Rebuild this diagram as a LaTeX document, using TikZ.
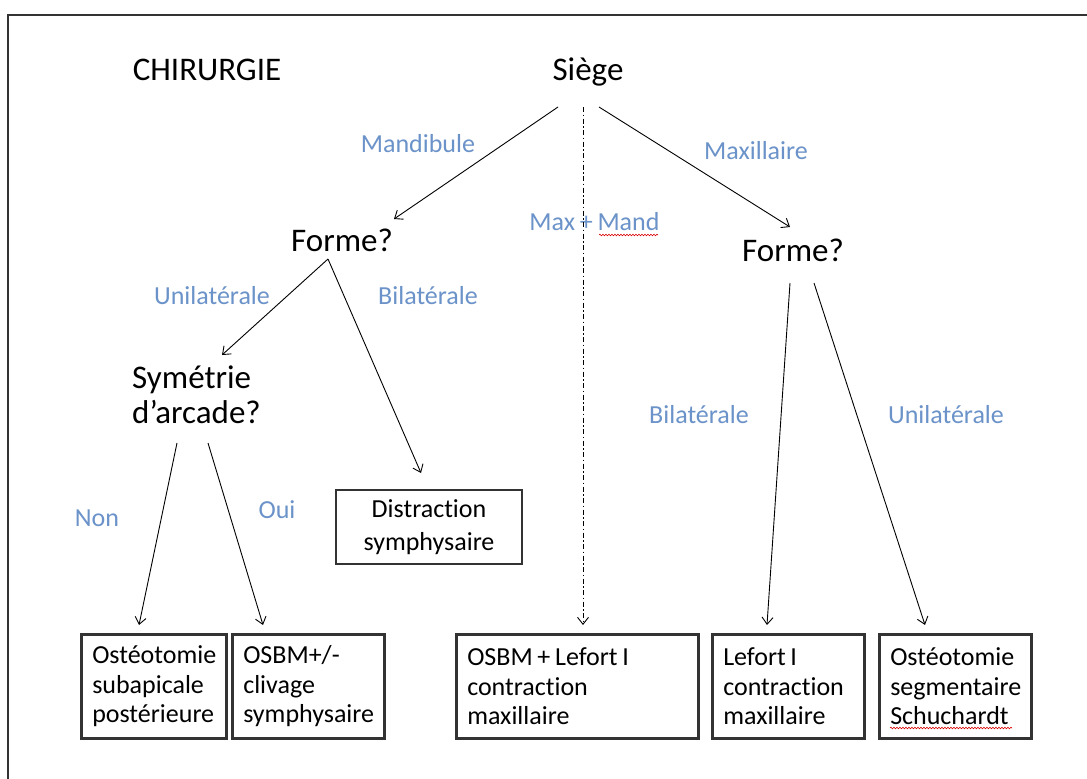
\documentclass[tikz,border=0pt]{standalone}
\usepackage{fontspec}
\setmainfont{Carlito}[Ligatures=NoCommon, WordSpace=0.8]
\usetikzlibrary{arrows.meta,decorations.pathmorphing}
\definecolor{lblue}{HTML}{6B93C9}
\definecolor{boxgray}{HTML}{333333}
\begin{document}
\begin{tikzpicture}[x=1pt,y=-1pt,
  head/.style={font=\fontsize{33}{35}\selectfont, inner sep=0pt, anchor=base},
  lbl/.style={font=\fontsize{26}{29}\selectfont, text=lblue, inner sep=0pt, anchor=base},
  res/.style={draw=boxgray, line width=2.5pt, font=\fontsize{26}{29.5}\selectfont, align=flush left, inner xsep=11pt, inner ysep=0pt, minimum height=104pt, anchor=north west},
  arr/.style={-{Straight Barb[length=7pt,width=11pt]}, line width=0.9pt},
  wavy/.style={red!85!black, line width=0.6pt, decorate, decoration={snake, amplitude=0.8pt, segment length=3pt}},
]
\useasboundingbox (0,0) rectangle (1087,779);
\fill[white] (0,0) rectangle (1087,779);
\draw[line width=2pt, boxgray] (8,779) -- (8,15) -- (1087,15);

% headings
\node[head] (chir) at (207,80) {CHIRURGIE};
\node[head] (siege) at (588,80) {Siège};
\node[head] (formeL) at (342,251) {Forme?};
\node[head] (formeR) at (793,261) {Forme?};
\node[head, anchor=base west, align=left, font=\fontsize{33}{35}\selectfont] (sym) at (132,423) {Symétrie\\d’arcade?};

% labels
\node[lbl] (lmand) at (418,152) {Mandibule};
\node[lbl] (lmaxi) at (756,159) {Maxillaire};
\node[lbl] (lmm) at (594.5,230) {Max + Mand};
\node[lbl] (lunil) at (212,304) {Unilatérale};
\node[lbl] (lbil) at (428,304) {Bilatérale};
\node[lbl] (lbilR) at (699,423) {Bilatérale};
\node[lbl] (lunilR) at (946,423) {Unilatérale};
\node[lbl] (lnon) at (97,526) {Non};
\node[lbl] (loui) at (277,518) {Oui};

% result boxes
\node[draw=boxgray, line width=2.5pt, font=\fontsize{26}{33}\selectfont, align=center, minimum width=186pt, minimum height=74pt, inner sep=0pt] (distr) at (429,527) {Distraction\\symphysaire};
\node[res, text width=123pt] (b1) at (80,633) {Ostéotomie\\subapicale\\postérieure};
\node[res, text width=130pt] (b2) at (231,633) {OSBM+/-\\clivage\\symphysaire};
\node[res, text width=220pt] (b3) at (455,633) {OSBM + Lefort I\\contraction\\maxillaire};
\node[res, text width=130pt] (b4) at (711,633) {Lefort I\\contraction\\maxillaire};
\node[res, text width=130pt] (b5) at (878,633) {Ostéotomie\\segmentaire\\Schuchardt};

% connector end points
\coordinate (sL) at (558,107);
\coordinate (sM) at (583,107);
\coordinate (sR) at (599,107);
\coordinate (fL) at (328,259);
\coordinate (fR1) at (790,283);
\coordinate (fR2) at (814,283);
\coordinate (y1) at (177,443);
\coordinate (y2) at (208,443);

\draw[arr] (sL) -- (394,219) coordinate (eFL);
\draw[arr, dash pattern=on 5pt off 2.5pt on 1.5pt off 2.5pt] (sM) -- (583,625) coordinate (eB3);
\draw[arr] (sR) -- (790,227) coordinate (eFR);
\draw[arr] (fL) -- (222,355) coordinate (eSym);
\draw[arr] (fL) -- (421,473) coordinate (eDis);
\draw[arr] (y1) -- (139,625) coordinate (eB1);
\draw[arr] (y2) -- (263,625) coordinate (eB2);
\draw[arr] (fR1) -- (767,625) coordinate (eB4);
\draw[arr] (fR2) -- (925,625) coordinate (eB5);

% spell-check underlines
\draw[wavy] (599,235) -- (658,235);
\draw[wavy] (890,728) -- (1012,728);
\end{tikzpicture}
\end{document}
